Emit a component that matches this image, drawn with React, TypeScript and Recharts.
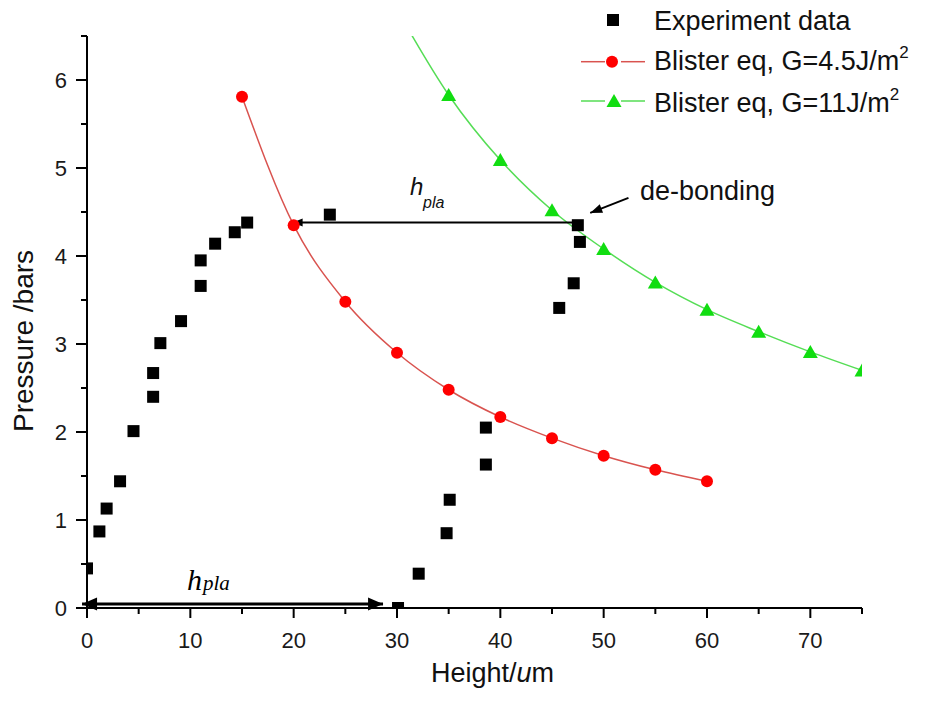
import React from 'react';
import { ComposedChart, Line, Scatter, XAxis, YAxis, ReferenceLine } from 'recharts';

// experiment data (height in um, pressure in bars)
const expHeight = [0, 1.2, 1.9, 3.2, 4.5, 6.4, 6.4, 7.1, 9.1, 11.0, 11.0, 12.4, 14.3, 15.5, 23.5, 47.5, 47.7, 47.1, 45.7, 38.6, 38.6, 35.1, 34.8, 32.1, 30.1];
const expPressure = [0.45, 0.87, 1.13, 1.44, 2.01, 2.4, 2.67, 3.01, 3.26, 3.66, 3.95, 4.14, 4.27, 4.38, 4.47, 4.35, 4.16, 3.69, 3.41, 2.05, 1.63, 1.23, 0.85, 0.39, 0];

// blister equation, G=4.5J/m2
const lowGHeight = [15, 20, 25, 30, 35, 40, 45, 50, 55, 60];
const lowGPressure = [5.81, 4.35, 3.48, 2.9, 2.48, 2.17, 1.93, 1.73, 1.57, 1.44];

// blister equation, G=11J/m2 (first point runs off the top)
const highGHeight = [30, 35, 40, 45, 50, 55, 60, 65, 70, 75];
const highGPressure = [6.8, 5.83, 5.09, 4.52, 4.08, 3.7, 3.39, 3.14, 2.91, 2.7];

const xTicks = [0, 5, 10, 15, 20, 25, 30, 35, 40, 45, 50, 55, 60, 65, 70, 75];
const yTicks = [0, 0.5, 1, 1.5, 2, 2.5, 3, 3.5, 4, 4.5, 5, 5.5, 6, 6.5];

const expData = expHeight.map((x, i) => ({ x, y: expPressure[i] }));
const lowGData = lowGHeight.map((x, i) => ({ x, y: lowGPressure[i] }));
const highGData = highGHeight.map((x, i) => ({ x, y: highGPressure[i] }));

const FONT = '"Liberation Sans", Arial, sans-serif';
const SERIF = '"Liberation Serif", "Times New Roman", serif';
const RED_LINE = '#d9534f';
const RED_DOT = '#ff0000';
const GREEN_LINE = '#55dd55';
const GREEN_DOT = '#11dd11';

const XTick = (props: any) => {
  const { x, y, payload } = props;
  const major = payload.value % 10 === 0;
  return (
    <g>
      <line x1={x} x2={x} y1={y} y2={y + (major ? 10 : 6)} stroke="#000" strokeWidth={2} />
      {major && (
        <text x={x} y={y + 40} textAnchor="middle" fontSize={22} fontFamily={FONT} fill="#1a1a1a">
          {payload.value}
        </text>
      )}
    </g>
  );
};

const YTick = (props: any) => {
  const { x, y, payload } = props;
  const major = payload.value % 1 === 0;
  return (
    <g>
      <line x1={x} x2={x - (major ? 11 : 6)} y1={y} y2={y} stroke="#000" strokeWidth={2} />
      {major && (
        <text x={x - 20} y={y + 8} textAnchor="end" fontSize={22} fontFamily={FONT} fill="#1a1a1a">
          {payload.value}
        </text>
      )}
    </g>
  );
};

function head(tx: number, ty: number, fx: number, fy: number, len: number, half: number) {
  const d = Math.hypot(tx - fx, ty - fy) || 1;
  const ux = (tx - fx) / d;
  const uy = (ty - fy) / d;
  const bx = tx - ux * len;
  const by = ty - uy * len;
  return `${tx},${ty} ${bx - uy * half},${by + ux * half} ${bx + uy * half},${by - ux * half}`;
}

// arrow shape for reference segments; tip at the first point, optional tip at the second
const arrowShape = (width: number, len: number, half: number, both: boolean) => (p: any) => {
  const { x1, y1, x2, y2 } = p;
  return (
    <g>
      <line x1={x1} y1={y1} x2={x2} y2={y2} stroke="#000" strokeWidth={width} />
      <polygon points={head(x1, y1, x2, y2, len, half)} fill="#000" />
      {both && <polygon points={head(x2, y2, x1, y1, len, half)} fill="#000" />}
    </g>
  );
};

const squareShape = (p: any) => (
  <rect x={p.cx - 6} y={p.cy - 6} width={12} height={12} fill="#000" />
);

const triangleDot = (p: any) => {
  const { cx, cy, key } = p;
  if (cx == null || cy == null) return <g key={key} />;
  return <polygon key={key} points={`${cx},${cy - 7} ${cx + 7.5},${cy + 6} ${cx - 7.5},${cy + 6}`} fill={GREEN_DOT} />;
};

export default function App() {
  return (
    <div style={{ position: 'relative', width: 909, height: 680 }}>
      <ComposedChart width={909} height={680} margin={{ top: 28, right: 55, bottom: 20, left: 19 }}>
        <XAxis
          type="number"
          dataKey="x"
          domain={[0, 75]}
          ticks={xTicks}
          allowDataOverflow
          interval={0}
          height={60}
          tickSize={0}
          tickMargin={0}
          tickLine={false}
          axisLine={{ stroke: '#000', strokeWidth: 2 }}
          tick={XTick}
        />
        <YAxis
          type="number"
          dataKey="y"
          domain={[0, 6.5]}
          ticks={yTicks}
          allowDataOverflow
          interval={0}
          width={60}
          tickSize={0}
          tickMargin={0}
          tickLine={false}
          axisLine={{ stroke: '#000', strokeWidth: 2 }}
          tick={YTick}
        />
        <Scatter data={expData} dataKey="y" shape={squareShape} isAnimationActive={false} />
        <Line
          data={lowGData}
          dataKey="y"
          type="monotone"
          stroke={RED_LINE}
          strokeWidth={1.5}
          dot={{ r: 6, fill: RED_DOT, stroke: RED_DOT, strokeWidth: 0 }}
          activeDot={false}
          isAnimationActive={false}
        />
        <Line
          data={highGData}
          dataKey="y"
          type="monotone"
          stroke={GREEN_LINE}
          strokeWidth={1.5}
          dot={triangleDot}
          activeDot={false}
          isAnimationActive={false}
        />
        <ReferenceLine
          segment={[{ x: 19.9, y: 4.38 }, { x: 47.5, y: 4.38 }]}
          ifOverflow="visible"
          shape={arrowShape(2, 10, 4, false)}
        />
        <ReferenceLine
          segment={[{ x: 48.7, y: 4.49 }, { x: 52.4, y: 4.66 }]}
          ifOverflow="visible"
          shape={arrowShape(2, 12, 4.5, false)}
        />
        <ReferenceLine
          segment={[{ x: -0.48, y: 0.045 }, { x: 28.65, y: 0.045 }]}
          ifOverflow="visible"
          shape={arrowShape(3, 15, 6.5, true)}
        />
      </ComposedChart>

      {/* overlay for legend, titles and annotation text; starts at the page top */}
      <svg
        width={909}
        height={693}
        style={{ position: 'absolute', left: 0, top: -8, pointerEvents: 'none' }}
        fontFamily={FONT}
      >
        <g transform="translate(0,8)">
          {/* legend */}
          <rect x={599} y={6} width={12} height={12} fill="#000" />
          <text x={646} y={22} fontSize={27} fill="#111">Experiment data</text>
          <line x1={573} x2={597} y1={53.7} y2={53.7} stroke={RED_LINE} strokeWidth={1.5} />
          <line x1={613} x2={637} y1={53.7} y2={53.7} stroke={RED_LINE} strokeWidth={1.5} />
          <circle cx={604} cy={53.7} r={6} fill={RED_DOT} />
          <text x={646} y={62} fontSize={27} fill="#111">
            Blister eq, G=4.5J/m<tspan fontSize={17} dy={-12}>2</tspan>
          </text>
          <line x1={573} x2={597} y1={93} y2={93} stroke={GREEN_LINE} strokeWidth={1.5} />
          <line x1={613} x2={637} y1={93} y2={93} stroke={GREEN_LINE} strokeWidth={1.5} />
          <polygon points="606,86 613.5,99 598.5,99" fill={GREEN_DOT} />
          <text x={646} y={104} fontSize={27} fill="#111">
            Blister eq, G=11J/m<tspan fontSize={17} dy={-12}>2</tspan>
          </text>

          {/* axis titles */}
          <text x={423} y={674} fontSize={27} fill="#111">
            Height/<tspan fontStyle="italic">u</tspan>m
          </text>
          <text x={25} y={333} fontSize={28} fill="#111" textAnchor="middle" transform="rotate(-90, 25, 333)">
            Pressure /bars
          </text>

          {/* annotations */}
          <text x={402} y={187} fontSize={24} fontStyle="italic" fill="#111">h</text>
          <text x={415} y={200} fontSize={16} fontStyle="italic" fill="#111">pla</text>
          <text x={632} y={192} fontSize={27} fill="#111">de-bonding</text>
          <text x={179} y={582} fontSize={30} fontStyle="italic" fontFamily={SERIF} fill="#000">h</text>
          <text x={195} y={582} fontSize={21} fontStyle="italic" fontFamily={SERIF} fill="#000">pla</text>
        </g>
      </svg>
    </div>
  );
}
